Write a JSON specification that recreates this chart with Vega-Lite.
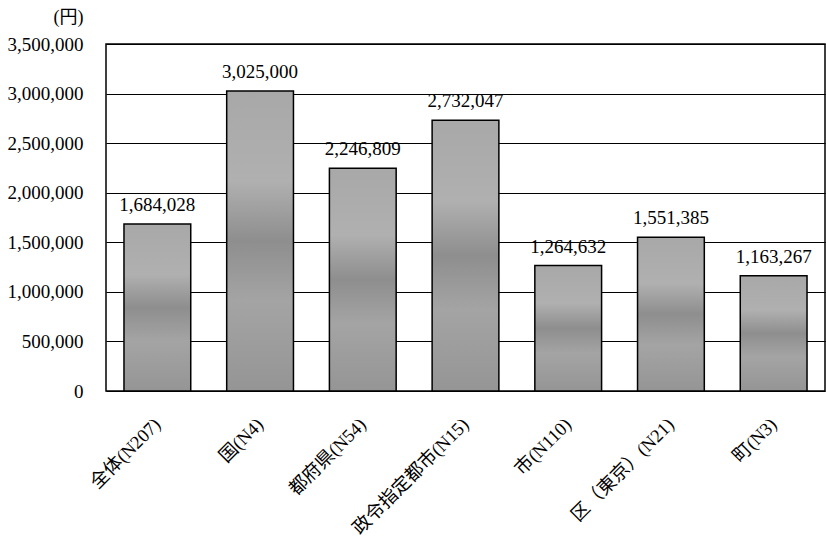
{
  "$schema": "https://vega.github.io/schema/vega-lite/v6.json",
  "width": 719,
  "height": 347,
  "autosize": {"type": "none"},
  "padding": {"left": 106, "top": 44, "right": 1, "bottom": 155},
  "background": "white",
  "config": {
    "font": "Liberation Serif, Noto Sans CJK JP",
    "view": {"stroke": "#000000", "strokeWidth": 1.5}
  },
  "data": {
    "values": [
      {"group": "全体(N207)", "value": 1684028, "label": "1,684,028"},
      {"group": "国(N4)", "value": 3025000, "label": "3,025,000"},
      {"group": "都府県(N54)", "value": 2246809, "label": "2,246,809"},
      {"group": "政令指定都市(N15)", "value": 2732047, "label": "2,732,047"},
      {"group": "市(N110)", "value": 1264632, "label": "1,264,632"},
      {"group": "区（東京）(N21)", "value": 1551385, "label": "1,551,385"},
      {"group": "町(N3)", "value": 1163267, "label": "1,163,267"}
    ]
  },
  "encoding": {
    "x": {
      "field": "group",
      "type": "nominal",
      "sort": null,
      "scale": {"paddingInner": 0.35, "paddingOuter": 0.175},
      "axis": {
        "title": null,
        "labelAngle": -45,
        "labelAlign": "right",
        "labelBaseline": "middle",
        "labelFontSize": 18.5,
        "labelColor": "#000000",
        "labelPadding": 30,
        "ticks": false,
        "domain": false,
        "grid": false
      }
    },
    "y": {
      "field": "value",
      "type": "quantitative",
      "scale": {"domain": [0, 3500000], "nice": false},
      "axis": {
        "values": [0, 500000, 1000000, 1500000, 2000000, 2500000, 3000000, 3500000],
        "format": ",d",
        "title": "(円)",
        "titleAngle": 0,
        "titleX": -38,
        "titleY": -27,
        "titleAlign": "center",
        "titleBaseline": "middle",
        "titleFontSize": 18,
        "titleFontWeight": "normal",
        "titleColor": "#000000",
        "labelFontSize": 19,
        "labelColor": "#000000",
        "labelPadding": 23,
        "ticks": false,
        "domain": false,
        "grid": true,
        "gridColor": "#000000",
        "gridWidth": 1.2,
        "gridOpacity": 1
      }
    }
  },
  "layer": [
    {
      "mark": {
        "type": "bar",
        "stroke": "#000000",
        "strokeWidth": 1.5,
        "color": {
          "gradient": "linear",
          "x1": 0, "y1": 0, "x2": 0, "y2": 1,
          "stops": [
            {"offset": 0, "color": "#a8a8a8"},
            {"offset": 0.3, "color": "#b0b0b0"},
            {"offset": 0.5, "color": "#8e8e8e"},
            {"offset": 0.7, "color": "#a4a4a4"},
            {"offset": 1, "color": "#959595"}
          ]
        }
      }
    },
    {
      "mark": {"type": "text", "dy": -9, "fontSize": 19, "color": "#000000", "baseline": "bottom"},
      "encoding": {"text": {"field": "label", "type": "nominal"}}
    }
  ]
}
